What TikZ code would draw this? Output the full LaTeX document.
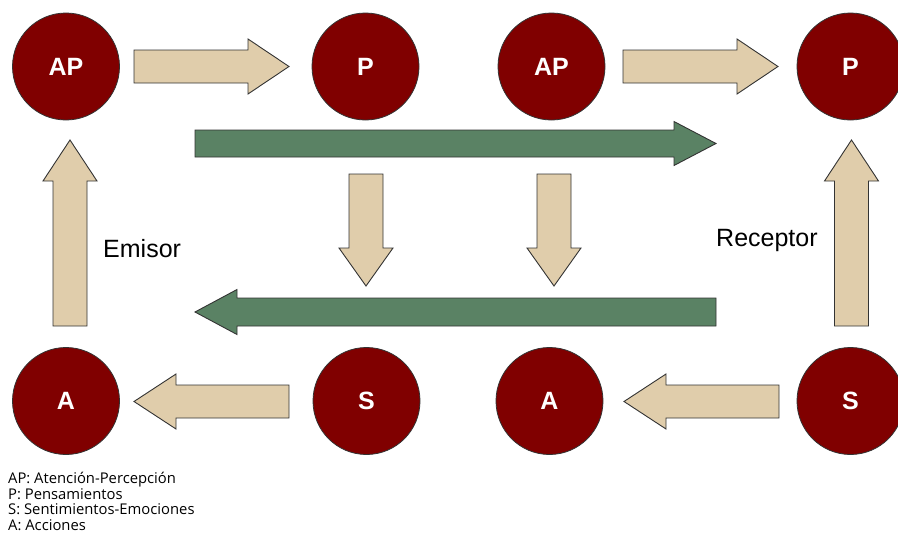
\documentclass[tikz,border=0pt]{standalone}
\usepackage{fontspec}
\setmainfont{Liberation Sans}
\newfontfamily\legendfont{Open Sans}
\usetikzlibrary{calc}
\definecolor{maroonc}{HTML}{800000}
\definecolor{beigec}{HTML}{E0CDAB}
\definecolor{greenc}{HTML}{5A8264}
\definecolor{edgec}{HTML}{333333}
\tikzset{
  circ/.style={circle, fill=maroonc, draw=edgec, line width=0.8pt, minimum size=107pt, inner sep=0pt,
    text=white, font=\fontsize{25}{25}\selectfont\bfseries},
  arrowbox/.style={draw=edgec, line width=0.9pt, line join=miter},
  sidelabel/.style={font=\fontsize{25}{25}\selectfont, text=black, inner sep=0pt},
  legend/.style={font=\legendfont\fontsize{14.8}{15.7}\selectfont, align=left, anchor=north west, inner sep=0pt}
}
\newcommand\barrow[5]{%
  \coordinate (#1b) at ($(#1e)!#5pt!(#1s)$);
  \draw[arrowbox, fill=#2] ($(#1s)!#3pt!90:(#1e)$) -- ($(#1b)!#3pt!90:(#1e)$) -- ($(#1b)!#4pt!90:(#1e)$) -- (#1e) -- ($(#1b)!#4pt!-90:(#1e)$) -- ($(#1b)!#3pt!-90:(#1e)$) -- ($(#1s)!#3pt!-90:(#1e)$) -- cycle;}
\begin{document}
\begin{tikzpicture}[x=1pt, y=-1pt]
\useasboundingbox (0,0) rectangle (898,533);
% circles
\node[circ] (ap1) at (66,66.5) {AP};
\node[circ] (p1) at (365.5,66.5) {P};
\node[circ] (ap2) at (551.5,66.5) {AP};
\node[circ] (p2) at (850.5,66.5) {P};
\node[circ] (a1) at (66,401) {A};
\node[circ] (s1) at (366.5,401) {S};
\node[circ] (a2) at (549.5,401) {A};
\node[circ] (s2) at (850.5,401) {S};
% arrow coordinates
\coordinate (t1s) at (134,66.5); \coordinate (t1e) at (289,66.5);
\coordinate (t2s) at (623,66.5); \coordinate (t2e) at (778,66.5);
\coordinate (gts) at (195,143.5); \coordinate (gte) at (716,143.5);
\coordinate (gbs) at (716,312); \coordinate (gbe) at (195,312);
\coordinate (uls) at (70,326); \coordinate (ule) at (70,140);
\coordinate (urs) at (851.5,326); \coordinate (ure) at (851.5,140);
\coordinate (d1s) at (366,174); \coordinate (d1e) at (366,286);
\coordinate (d2s) at (554,174); \coordinate (d2e) at (554,286);
\coordinate (b1s) at (289,401.5); \coordinate (b1e) at (134,401.5);
\coordinate (b2s) at (779,401.5); \coordinate (b2e) at (624,401.5);
% arrows
\barrow{t1}{beigec}{16.5}{27.5}{41}
\barrow{t2}{beigec}{16.5}{27.5}{41}
\barrow{gt}{greenc}{13.5}{22}{42}
\barrow{gb}{greenc}{14}{22.5}{42}
\barrow{ul}{beigec}{17}{27}{41}
\barrow{ur}{beigec}{17}{27}{41}
\barrow{d1}{beigec}{17}{27}{38}
\barrow{d2}{beigec}{17}{27}{38}
\barrow{b1}{beigec}{16.5}{27.5}{42}
\barrow{b2}{beigec}{16.5}{27.5}{42}
% labels
\node[sidelabel, anchor=base west] (emisor) at (103,257) {Emisor};
\node[sidelabel, anchor=base west] (receptor) at (716,246.5) {Receptor};
\node[legend] (leg) at (8,472) {AP: Atención-Percepción\\P: Pensamientos\\S: Sentimientos-Emociones\\A: Acciones};
\end{tikzpicture}
\end{document}
